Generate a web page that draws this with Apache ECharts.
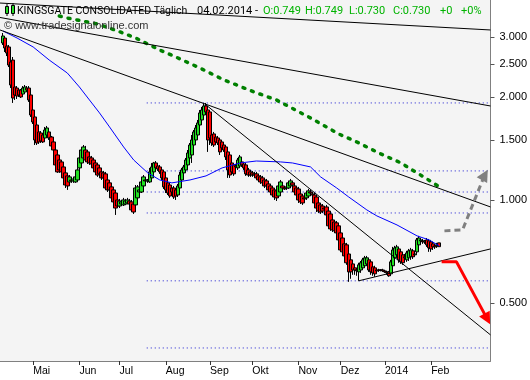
<!DOCTYPE html>
<html><head><meta charset="utf-8">
<script src="https://cdn.jsdelivr.net/npm/echarts@6/dist/echarts.min.js"></script>
<style>html,body{margin:0;padding:0;background:#fff}#c{width:530px;height:380px}</style>
</head><body><div id="c"></div><script>
// ---------- data ----------
const firstDay = '2013-04-09';
const NCAT = 244;           // weekday slots on the x axis
const candleStart = 1;      // first slot holding a candle
const tickMonths = ['2013-05','2013-06','2013-07','2013-08','2013-09','2013-10','2013-11','2013-12','2014-01','2014-02'];
const tickNames  = ['Mai','Jun','Jul','Aug','Sep','Okt','Nov','Dez','2014','Feb'];
const yTickValues = [0.5, 1, 1.5, 2, 2.5, 3];
const yMin = 0.338, yMax = 3.845;

const opens = [2.878,2.976,2.821,2.802,2.532,2.566,2.140,2.125,2.097,2.097,
2.041,2.069,2.125,2.125,2.028,1.833,1.749,1.657,1.581,1.570,
1.549,1.518,1.549,1.581,1.528,1.478,1.400,1.354,1.309,1.292,
1.249,1.200,1.176,1.129,1.144,1.137,1.129,1.144,1.241,1.283,
1.327,1.400,1.382,1.336,1.327,1.309,1.283,1.266,1.241,1.208,
1.200,1.192,1.144,1.122,1.092,1.070,1.048,1.000,0.960,0.973,
0.967,0.973,0.980,0.993,0.987,0.973,0.967,1.014,1.055,1.055,
1.099,1.144,1.137,1.129,1.160,1.208,1.283,1.257,1.249,1.224,
1.208,1.160,1.122,1.106,1.084,1.084,1.070,1.034,1.084,1.144,
1.200,1.224,1.266,1.327,1.354,1.448,1.498,1.549,1.657,1.714,
1.772,1.883,1.833,1.809,1.549,1.560,1.528,1.518,1.498,1.478,
1.448,1.429,1.382,1.354,1.283,1.266,1.249,1.241,1.257,1.292,
1.274,1.266,1.224,1.208,1.200,1.192,1.192,1.176,1.168,1.160,
1.144,1.137,1.114,1.099,1.084,1.070,1.063,1.027,1.055,1.099,
1.084,1.084,1.084,1.099,1.122,1.099,1.084,1.077,1.041,1.027,
1.014,1.014,1.027,1.055,1.041,1.034,1.020,0.980,0.967,0.960,
0.947,0.954,0.928,0.910,0.874,0.862,0.857,0.840,0.801,0.774,
0.744,0.739,0.695,0.668,0.650,0.633,0.624,0.616,0.624,0.633,
0.642,0.650,0.668,0.659,0.637,0.633,0.624,0.624,0.625,0.624,
0.620,0.616,0.616,0.608,0.642,0.677,0.691,0.719,0.705,0.691,
0.677,0.668,0.677,0.682,0.710,0.691,0.705,0.739,0.759,0.759,
0.754,0.764,0.759,0.754,0.744,0.734,0.734,0.749];
const closes = [3.017,2.783,2.691,2.481,2.169,1.987,2.028,2.014,2.028,2.001,
2.125,2.140,2.097,1.961,1.772,1.691,1.498,1.468,1.478,1.488,
1.478,1.602,1.624,1.518,1.439,1.400,1.266,1.208,1.224,1.208,
1.160,1.106,1.099,1.168,1.137,1.152,1.168,1.224,1.327,1.400,
1.429,1.309,1.292,1.283,1.274,1.241,1.208,1.183,1.192,1.160,
1.160,1.084,1.070,1.070,1.014,0.987,0.947,0.960,0.993,0.987,
1.000,0.993,1.000,0.973,0.935,0.922,1.084,1.092,1.070,1.129,
1.168,1.137,1.144,1.208,1.249,1.283,1.241,1.232,1.208,1.160,
1.092,1.070,1.048,1.027,1.055,1.020,1.027,1.099,1.183,1.224,
1.249,1.309,1.372,1.448,1.498,1.581,1.624,1.680,1.797,1.833,
1.883,1.809,1.498,1.518,1.468,1.448,1.478,1.468,1.382,1.420,
1.400,1.336,1.224,1.183,1.208,1.192,1.257,1.309,1.336,1.266,
1.241,1.192,1.183,1.183,1.183,1.183,1.160,1.144,1.129,1.122,
1.099,1.099,1.070,1.055,1.034,1.020,1.014,1.099,1.129,1.084,
1.077,1.092,1.122,1.137,1.106,1.055,1.034,1.000,0.987,0.980,
1.007,1.048,1.063,1.048,1.034,0.980,0.947,0.928,0.922,0.928,
0.941,0.904,0.840,0.823,0.817,0.812,0.801,0.764,0.714,0.705,
0.686,0.655,0.616,0.616,0.624,0.624,0.620,0.646,0.655,0.668,
0.677,0.677,0.624,0.616,0.612,0.608,0.620,0.622,0.622,0.620,
0.616,0.612,0.600,0.659,0.714,0.724,0.729,0.668,0.659,0.655,
0.682,0.700,0.710,0.714,0.682,0.695,0.764,0.774,0.764,0.754,
0.759,0.739,0.724,0.719,0.729,0.729,0.739,0.730];
const lows = [2.840,2.709,2.636,2.448,2.125,1.922,1.961,1.974,2.001,1.987,
2.014,2.055,2.069,1.935,1.749,1.668,1.448,1.448,1.458,1.468,
1.468,1.508,1.528,1.498,1.420,1.372,1.241,1.200,1.200,1.192,
1.144,1.084,1.070,1.114,1.122,1.122,1.122,1.137,1.224,1.266,
1.309,1.292,1.274,1.266,1.257,1.224,1.183,1.168,1.176,1.144,
1.144,1.070,1.055,1.055,1.000,0.947,0.904,0.947,0.947,0.960,
0.960,0.967,0.973,0.960,0.922,0.910,0.954,1.000,1.041,1.048,
1.084,1.122,1.122,1.122,1.144,1.192,1.224,1.216,1.192,1.144,
1.077,1.048,1.034,1.014,1.041,1.007,1.000,1.020,1.070,1.129,
1.183,1.208,1.249,1.309,1.283,1.429,1.478,1.528,1.635,1.691,
1.749,1.785,1.382,1.448,1.439,1.429,1.458,1.448,1.354,1.400,
1.382,1.309,1.160,1.160,1.183,1.176,1.232,1.224,1.241,1.249,
1.224,1.176,1.168,1.168,1.168,1.168,1.152,1.129,1.114,1.106,
1.084,1.084,1.055,1.041,1.020,1.000,0.993,1.014,1.041,1.070,
1.070,1.070,1.077,1.084,1.092,1.041,1.020,0.980,0.973,0.967,
0.993,1.000,1.014,1.034,1.020,0.967,0.922,0.916,0.910,0.916,
0.928,0.892,0.823,0.812,0.806,0.801,0.790,0.754,0.705,0.691,
0.677,0.646,0.576,0.588,0.604,0.604,0.600,0.580,0.612,0.624,
0.633,0.642,0.616,0.604,0.600,0.596,0.616,0.616,0.618,0.616,
0.612,0.604,0.596,0.600,0.624,0.659,0.682,0.655,0.650,0.646,
0.659,0.659,0.663,0.668,0.672,0.682,0.695,0.724,0.749,0.744,
0.744,0.729,0.705,0.705,0.714,0.719,0.724,0.730];
const highs = [3.079,3.017,2.859,2.840,2.601,2.619,2.169,2.154,2.125,2.111,
2.154,2.169,2.154,2.154,2.055,1.858,1.772,1.714,1.602,1.591,
1.560,1.635,1.646,1.602,1.539,1.498,1.420,1.372,1.327,1.309,
1.266,1.216,1.192,1.183,1.160,1.168,1.183,1.241,1.354,1.420,
1.448,1.439,1.400,1.354,1.345,1.327,1.300,1.283,1.257,1.224,
1.216,1.208,1.160,1.137,1.106,1.084,1.063,1.014,1.007,1.000,
1.014,1.007,1.014,1.007,1.000,0.987,1.106,1.106,1.084,1.144,
1.183,1.160,1.152,1.241,1.283,1.292,1.300,1.266,1.266,1.241,
1.224,1.176,1.137,1.122,1.099,1.099,1.084,1.114,1.208,1.241,
1.266,1.327,1.400,1.468,1.549,1.602,1.657,1.714,1.833,1.871,
1.922,1.922,1.858,1.833,1.570,1.581,1.549,1.539,1.518,1.498,
1.468,1.448,1.400,1.372,1.309,1.283,1.274,1.327,1.354,1.309,
1.292,1.283,1.241,1.224,1.216,1.208,1.208,1.192,1.183,1.176,
1.160,1.152,1.129,1.114,1.099,1.084,1.077,1.122,1.144,1.114,
1.099,1.106,1.137,1.152,1.137,1.114,1.099,1.092,1.055,1.041,
1.027,1.063,1.077,1.070,1.055,1.048,1.034,1.000,0.980,0.973,
0.960,0.967,0.941,0.922,0.886,0.874,0.868,0.851,0.812,0.785,
0.754,0.749,0.705,0.677,0.659,0.642,0.633,0.655,0.663,0.677,
0.686,0.686,0.677,0.668,0.646,0.642,0.629,0.629,0.628,0.629,
0.624,0.620,0.620,0.668,0.729,0.734,0.739,0.729,0.714,0.700,
0.695,0.710,0.719,0.724,0.719,0.710,0.774,0.785,0.774,0.769,
0.764,0.774,0.769,0.764,0.754,0.744,0.749,0.749];

// moving averages: [slot index] and value
const blueIdx = [1,8,16,24,33,39,44,49,54,61,66,73,79,85,94,102,110,119,127,139,145,154,159,167,173,182,187,197,207,213,218];
const blueVal = [3.121,2.976,2.802,2.566,2.351,2.140,1.961,1.797,1.635,1.429,1.309,1.200,1.144,1.122,1.144,1.176,1.241,1.283,1.300,1.292,1.283,1.249,1.168,1.084,1.020,0.935,0.898,0.845,0.785,0.764,0.734];
const greenIdx = [29,33,48,58,67,79,87,99,111,126,137,154,168,177,188,199,207,215,218];
const greenVal = [3.452,3.405,3.271,3.121,2.976,2.746,2.619,2.431,2.243,2.069,1.961,1.737,1.560,1.478,1.372,1.283,1.200,1.122,1.092];

// trend lines [slot, price]
const trendA = [[-0.5,3.767],[243.5,3.142]];
const trendB = [[-0.5,3.418],[243.5,1.883]];
const trendC = [[-0.5,3.142],[243.5,0.954]];
const trendD = [[101.4,1.909],[243.5,0.403]];
const trendE = [[177.9,0.580],[243.5,0.719]];
const levels = [1.922,1.216,1.055,0.916,0.580,0.369];
const levelFrom = 72.5, levelTo = 243.5;
const redArrow  = [[219.2,0.659],[226.6,0.659],[241.6,0.452]];
const grayArrow = [[220.6,0.812],[229.6,0.817],[240.4,1.175]];

// ---------- build ----------
const L = v => Math.log10(v);
const dates = [];
{ const d = new Date(firstDay + 'T00:00:00Z');
  while (dates.length < NCAT) { const w = d.getUTCDay(); if (w !== 0 && w !== 6) dates.push(d.toISOString().slice(0,10)); d.setUTCDate(d.getUTCDate()+1); } }
const tickSlots = {};
tickMonths.forEach((m, k) => { const i = dates.findIndex(s => s.slice(0,7) === m); if (i >= 0) tickSlots[i] = tickNames[k]; });

const candleData = dates.map((_, i) => {
  const k = i - candleStart;
  if (k < 0 || k >= opens.length) return '-';
  return [L(opens[k]), L(closes[k]), L(lows[k]), L(highs[k])];
});
const last = opens.length - 1;

const lineS = (pts, style, z, extra) => Object.assign({
  type: 'line', xAxisIndex: 1, yAxisIndex: 0, symbol: 'none', silent: true, z: z,
  data: pts.map(p => [p[0], L(p[1])]), lineStyle: style
}, extra || {});
const arrowS = (pts, style) => lineS(pts, style, 8, {
  markLine: { silent: true, animation: false, symbol: ['none', 'triangle'], symbolSize: 12, label: { show: false },
    emphasis: { disabled: true },
    lineStyle: { color: style.color, width: 1, type: 'solid' },
    data: [[{ coord: [pts[2][0] - 1.2, L(pts[2][1]) + (L(pts[1][1]) - L(pts[2][1])) * 0.08] }, { coord: [pts[2][0] + 0.3, L(pts[2][1]) - (L(pts[1][1]) - L(pts[2][1])) * 0.02] }]] }
});

const series = [
  { type: 'candlestick', xAxisIndex: 0, yAxisIndex: 0, barWidth: 4, z: 3, data: candleData,
    itemStyle: { color: '#22e022', color0: '#ff0000', borderColor: '#000', borderColor0: '#000', borderColorDoji: '#000', borderWidth: 1 } },
  lineS(blueIdx.map((x, i) => [x, blueVal[i]]), { color: '#0000ff', width: 1 }, 5),
  lineS(greenIdx.map((x, i) => [x, greenVal[i]]), { color: '#008000', width: 3.5, type: [2, 7], cap: 'round' }, 5),
  lineS(trendA, { color: '#000', width: 1 }, 6),
  lineS(trendB, { color: '#000', width: 1 }, 6),
  lineS(trendC, { color: '#000', width: 1 }, 6),
  lineS(trendD, { color: '#000', width: 1 }, 6),
  lineS(trendE, { color: '#000', width: 1 }, 6)
];
levels.forEach(v => series.push(lineS([[levelFrom, v], [levelTo, v]], { color: '#1a1ad0', width: 1, type: [1, 3] }, 2)));
series.push(arrowS(redArrow, { color: '#ff0000', width: 3, type: 'solid' }));
series.push(arrowS(grayArrow, { color: '#808080', width: 3, type: [6, 4] }));

const titleFont = 'Roboto, "Liberation Sans", sans-serif';
const hdr = [
  ['04.02.2014 -', 197, '#000'],
  ['O:' + opens[last].toFixed(3), 263, '#00b400'],
  ['H:' + highs[last].toFixed(3), 305, '#00b400'],
  ['L:' + lows[last].toFixed(3), 349, '#00b400'],
  ['C:' + closes[last].toFixed(3), 393, '#00b400'],
  ['+0', 440, '#00b400'],
  ['+0%', 461, '#00b400']
];
const graphic = [
  { type: 'rect', shape: { x: 5.5, y: 6.5, width: 3, height: 7 }, style: { fill: '#22dd22', stroke: '#000', lineWidth: 1 }, z: 100 },
  { type: 'line', shape: { x1: 7, y1: 4, x2: 7, y2: 16 }, style: { stroke: '#000', lineWidth: 1 }, z: 99 },
  { type: 'rect', shape: { x: 11.5, y: 5.5, width: 3, height: 8 }, style: { fill: '#22dd22', stroke: '#000', lineWidth: 1 }, z: 100 },
  { type: 'line', shape: { x1: 13, y1: 3, x2: 13, y2: 16 }, style: { stroke: '#000', lineWidth: 1 }, z: 99 },
  { type: 'text', x: 17, y: 11, z: 100, style: { text: 'KINGSGATE CONSOLIDATED Täglich', fill: '#000', font: '10.5px ' + titleFont, verticalAlign: 'middle' } },
  { type: 'text', x: 4, y: 26, z: 100, style: { text: '© www.tradesignalonline.com', fill: '#333', font: '11px "Liberation Sans", sans-serif', verticalAlign: 'middle' } }
].concat(hdr.map(h => ({ type: 'text', x: h[1], y: 11, z: 100, style: { text: h[0], fill: h[2], font: '11px ' + titleFont, verticalAlign: 'middle' } })));

const chart = echarts.init(document.getElementById('c'), null, { renderer: 'canvas' });
chart.setOption({
  animation: false,
  backgroundColor: '#ffffff',
  grid: { left: 0, right: 39, top: 0, bottom: 19, show: true, backgroundColor: '#f4f4f4', borderWidth: 0 },
  xAxis: [
    { type: 'category', data: dates, boundaryGap: true,
      axisLine: { show: true, onZero: false, lineStyle: { color: '#808080', width: 1 } },
      axisTick: { show: true, alignWithLabel: true, length: 4, interval: i => tickSlots[i] !== undefined, lineStyle: { color: '#333' } },
      axisLabel: { interval: i => tickSlots[i] !== undefined, formatter: (v, i) => tickSlots[i] || '', align: 'left', margin: 5,
        color: '#000', fontSize: 10.5, fontFamily: '"Liberation Sans", sans-serif' },
      splitLine: { show: false } },
    { type: 'value', min: -0.5, max: NCAT - 0.5, show: false }
  ],
  yAxis: [{ type: 'value', position: 'right', min: L(yMin), max: L(yMax), scale: true,
    axisLine: { show: true, onZero: false, lineStyle: { color: '#808080', width: 1 } },
    axisTick: { show: true, length: 4, customValues: yTickValues.map(L), lineStyle: { color: '#555' } },
    axisLabel: { customValues: yTickValues.map(L), formatter: v => Math.pow(10, v).toFixed(3), margin: 9,
      color: '#000', fontSize: 11, fontFamily: '"Liberation Sans", sans-serif' },
    splitLine: { show: false } }],
  series: series,
  graphic: graphic
});
</script></body></html>
